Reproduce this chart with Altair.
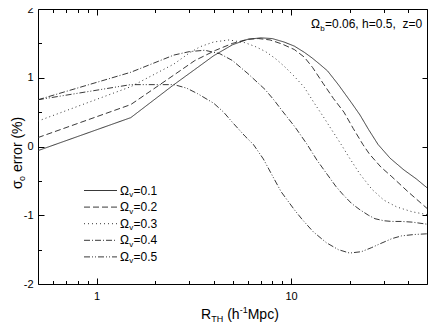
import altair as alt
import pandas as pd

# ---------------- data ----------------
omega_v = ["0.1", "0.2", "0.3", "0.4", "0.5"]

x_01 = [0.5, 1.5, 2.5, 3.2, 4.0, 5.0, 6.0, 7.0, 8.0, 9.2, 10.4, 11.7, 12.8, 14.0,
        15.4, 17.5, 20.4, 22.6, 25.0, 28.0, 32.3, 38.0, 44.0, 50.0]
y_01 = [-0.06, 0.42, 0.90, 1.12, 1.32, 1.48, 1.56, 1.58, 1.57, 1.52, 1.46, 1.37, 1.29, 1.20,
        1.10, 0.90, 0.64, 0.46, 0.25, 0.03, -0.17, -0.34, -0.47, -0.60]

x_02 = [0.5, 1.5, 2.5, 3.2, 4.1, 5.0, 6.0, 6.8, 7.8, 9.0, 10.4, 11.7, 12.9, 14.6,
        16.5, 18.7, 20.9, 23.4, 25.3, 29.0, 33.0, 40.0, 50.0]
y_02 = [0.13, 0.61, 1.04, 1.25, 1.40, 1.50, 1.56, 1.57, 1.55, 1.49, 1.41, 1.30, 1.15, 0.92,
        0.70, 0.50, 0.26, 0.03, -0.11, -0.30, -0.44, -0.66, -0.90]

x_03 = [0.5, 1.5, 2.5, 3.0, 3.4, 4.0, 4.8, 5.8, 6.6, 7.4, 8.3, 9.2, 10.4, 11.7, 13.1,
        14.6, 16.2, 18.1, 20.0, 22.6, 26.0, 30.0, 35.0, 42.0, 50.0]
y_03 = [0.37, 0.87, 1.20, 1.36, 1.45, 1.52, 1.55, 1.51, 1.45, 1.38, 1.28, 1.17, 1.02, 0.86, 0.64,
        0.44, 0.24, 0.03, -0.17, -0.40, -0.62, -0.78, -0.88, -0.95, -0.99]

x_04 = [0.5, 1.5, 2.5, 3.0, 3.6, 4.3, 5.0, 6.0, 7.35, 8.2, 9.0, 10.5, 12.1, 13.6, 15.2,
        17.0, 18.5, 20.5, 22.6, 25.0, 27.0, 30.0, 33.0, 37.0, 42.0, 50.0]
y_04 = [0.68, 1.08, 1.33, 1.38, 1.40, 1.35, 1.25, 1.06, 0.83, 0.67, 0.52, 0.28, 0.03, -0.20, -0.39,
        -0.58, -0.70, -0.83, -0.92, -1.00, -1.05, -1.08, -1.09, -1.09, -1.10, -1.13]

x_05 = [0.5, 1.5, 2.5, 2.9, 3.3, 4.0, 4.5, 5.0, 5.8, 6.4, 7.2, 8.0, 8.9, 10.4, 11.4, 13.0,
        15.2, 17.5, 20.0, 23.0, 26.0, 28.4, 33.0, 37.0, 43.0, 50.0]
y_05 = [0.68, 0.90, 0.90, 0.85, 0.77, 0.63, 0.50, 0.35, 0.15, 0.03, -0.18, -0.42, -0.66, -0.92, -1.06,
        -1.24, -1.40, -1.50, -1.55, -1.53, -1.47, -1.42, -1.34, -1.30, -1.28, -1.27]

x_major = [1, 10]
x_minor = [0.6, 0.7, 0.8, 0.9, 2, 3, 4, 5, 6, 7, 8, 9, 20, 30, 40]
y_major = [-2, -1, 0, 1, 2]
y_minor = [-1.5, -0.5, 0.5, 1.5]

# ---------------- build table ----------------
rows = []
for name, xs, ys in zip(omega_v, [x_01, x_02, x_03, x_04, x_05], [y_01, y_02, y_03, y_04, y_05]):
    for xv, yv in zip(xs, ys):
        rows.append({"series": name, "R": xv, "err": yv})
df = pd.DataFrame(rows)

W, H = 389, 275
FONT = "Liberation Sans"
LINE = "#222222"
dashes = [[1, 0], [6, 3], [1, 3], [6, 2, 1, 2], [6, 2, 1, 2, 1, 2]]

xscale = alt.Scale(type="log", domain=[0.5, 50], nice=False)
yscale = alt.Scale(domain=[-2, 2], nice=False)

lines = alt.Chart(df).mark_line(color=LINE, strokeWidth=0.9).encode(
    x=alt.X("R:Q", scale=xscale,
            axis=alt.Axis(orient="bottom", values=x_major, ticks=False, domain=False, grid=False,
                          title=None, labelFontSize=11, labelFont=FONT, labelColor="black",
                          labelPadding=6, format="~g")),
    y=alt.Y("err:Q", scale=yscale,
            axis=alt.Axis(orient="left", values=y_major, ticks=False, domain=False, grid=False,
                          title=None, labelFontSize=11, labelFont=FONT, labelColor="black",
                          labelPadding=5,
                          labelExpr="datum.value < 0 ? '-' + abs(datum.value) : '' + datum.value")),
    strokeDash=alt.StrokeDash("series:N", scale=alt.Scale(domain=omega_v, range=dashes), legend=None),
    detail="series:N",
)


def tick_axis(orient, offset, values, size):
    return alt.Axis(orient=orient, offset=offset, values=values, tickSize=size, tickColor="black",
                    tickWidth=1, labels=False, domain=False, grid=False, title=None)


def ghost(xaxis, yaxis):
    return alt.Chart(df).mark_point(opacity=0).encode(
        x=alt.X("R:Q", scale=xscale, axis=xaxis),
        y=alt.Y("err:Q", scale=yscale, axis=yaxis),
    )


ax1 = ghost(tick_axis("top", -H, x_major, 6), tick_axis("right", -W, y_major, 6))
ax2 = ghost(tick_axis("top", -H, x_minor, 3.5), tick_axis("right", -W, y_minor, 3.5))
ax3 = ghost(tick_axis("bottom", -H, x_major, 6), tick_axis("left", -W, y_major, 5))
ax4 = ghost(tick_axis("bottom", -H, x_minor, 3.5), None)

one = pd.DataFrame({"k": [0]})


def txt(s, x, y, size, angle=0, baseline="middle"):
    kw = dict(text=s, align="left", baseline=baseline, fontSize=size, font=FONT, color="black")
    if angle:
        kw["angle"] = angle
    return alt.Chart(one).mark_text(**kw).encode(x=alt.value(x), y=alt.value(y))


layers = [lines, ax1, ax2, ax3, ax4]

# legend (inside plot)
for i, (name, dash) in enumerate(zip(omega_v, dashes)):
    yy = 181.5 + 16.6 * i
    layers.append(
        alt.Chart(one).mark_rule(color=LINE, strokeWidth=0.9, strokeDash=dash).encode(
            x=alt.value(46), x2=alt.value(79), y=alt.value(yy)))
    layers.append(txt("Ω", 82, yy, 12))
    layers.append(txt("v", 91.3, yy + 4.5, 8))
    layers.append(txt("=" + name, 95.5, yy, 12))

# annotation
layers.append(txt("Ω", 273, 15, 12))
layers.append(txt("b", 282.3, 19.5, 8))
layers.append(txt("=0.06, h=0.5,\u00a0 z=0", 287, 15, 12))

# x title
layers.append(txt("R", 163, 310, 14, baseline="alphabetic"))
layers.append(txt("TH", 173.3, 313, 9, baseline="alphabetic"))
layers.append(txt("(h", 189.2, 310, 14, baseline="alphabetic"))
layers.append(txt("-1", 201.7, 304, 9, baseline="alphabetic"))
layers.append(txt("Mpc)", 209.7, 310, 14, baseline="alphabetic"))

# y title (rotated)
layers.append(txt("σ", -16.5, 180, 14, angle=270, baseline="alphabetic"))
layers.append(txt("o", -13.5, 171.9, 9, angle=270, baseline="alphabetic"))
layers.append(txt("error (%)", -16.5, 163, 14, angle=270, baseline="alphabetic"))

chart = alt.layer(*layers).resolve_axis(x="independent", y="independent").properties(
    width=W, height=H,
    autosize=alt.AutoSizeParams(type="none"),
    padding={"left": 30, "top": 1, "right": 1, "bottom": 41},
).configure_view(stroke="black", strokeWidth=1)

chart.save("out.html", embed_options={"renderer": "svg", "actions": False})
